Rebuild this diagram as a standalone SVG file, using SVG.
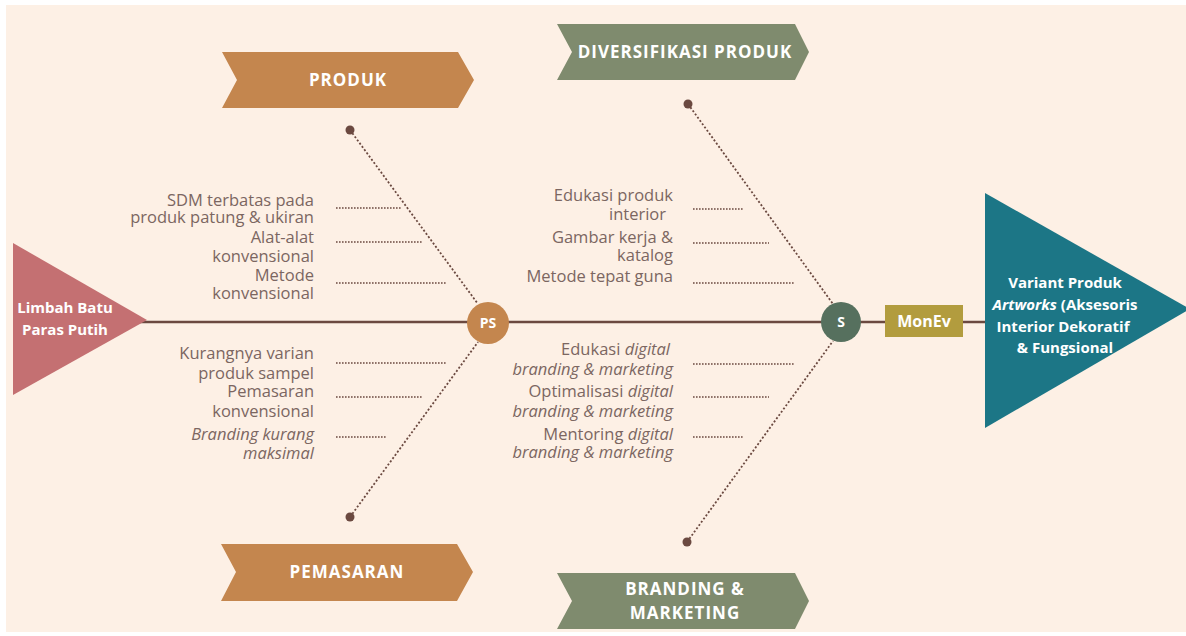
<svg xmlns="http://www.w3.org/2000/svg" width="1186" height="636" viewBox="0 0 1186 636">
  <style>
    .lbl { font-family: "Open Sans", "Liberation Sans", sans-serif; font-size: 16.5px; fill: #7b6661; text-anchor: end; }
    .it { font-style: italic; }
    .ban { font-family: "Open Sans", "Liberation Sans", sans-serif; font-size: 17px; font-weight: bold; letter-spacing: 1px; fill: #ffffff; text-anchor: middle; }
    .wt { font-family: "Open Sans", "Liberation Sans", sans-serif; font-weight: bold; fill: #ffffff; text-anchor: middle; }
    .tick { stroke: #6b4940; stroke-width: 1.4; stroke-dasharray: 1.6 1.4; fill: none; }
    .bone { stroke: #6b4940; stroke-width: 1.8; stroke-dasharray: 2 2; fill: none; }
    .dot { fill: #6b4940; }
  </style>

  <!-- page background -->
  <rect x="0" y="0" width="1186" height="636" fill="#ffffff"/>
  <rect x="6" y="5" width="1180" height="627" fill="#fdf0e5"/>

  <!-- connectors: spine, bones and tick lines -->
  <g id="connectors">
    <line x1="140" y1="322" x2="990" y2="322" stroke="#6b4940" stroke-width="2.5"/>
    <line class="bone" x1="350" y1="130" x2="478" y2="304"/>
    <line class="bone" x1="350" y1="517" x2="478" y2="342"/>
    <line class="bone" x1="688" y1="104" x2="833" y2="304"/>
    <line class="bone" x1="687" y1="542" x2="833" y2="341"/>
    <circle class="dot" cx="350" cy="130" r="4.5"/>
    <circle class="dot" cx="350" cy="517" r="4.5"/>
    <circle class="dot" cx="688" cy="104" r="4.5"/>
    <circle class="dot" cx="687" cy="542" r="4.5"/>

    <line class="tick" x1="336" y1="208" x2="402" y2="208"/>
    <line class="tick" x1="336" y1="242" x2="422" y2="242"/>
    <line class="tick" x1="336" y1="283" x2="447" y2="283"/>
    <line class="tick" x1="336" y1="363" x2="447" y2="363"/>
    <line class="tick" x1="336" y1="397" x2="422" y2="397"/>
    <line class="tick" x1="336" y1="437" x2="386" y2="437"/>

    <line class="tick" x1="693" y1="209" x2="743" y2="209"/>
    <line class="tick" x1="693" y1="243" x2="769" y2="243"/>
    <line class="tick" x1="693" y1="283" x2="795" y2="283"/>
    <line class="tick" x1="693" y1="364" x2="795" y2="364"/>
    <line class="tick" x1="693" y1="397" x2="769" y2="397"/>
    <line class="tick" x1="693" y1="437" x2="743" y2="437"/>
  </g>

  <!-- head: problem -->
  <g id="limbah">
    <polygon points="13,243 13,395 147,320" fill="#c47072"/>
    <text class="wt" font-size="15"><tspan x="65" y="313">Limbah Batu</tspan><tspan x="65" y="335">Paras Putih</tspan></text>
  </g>

  <!-- category banners -->
  <g id="produk">
    <polygon points="222,52 458,52 474,80 458,108 222,108 237,80" fill="#c4864e"/>
    <text class="ban" x="348" y="86">PRODUK</text>
  </g>
  <g id="pemasaran">
    <polygon points="221,544 457,544 473,572 457,601 221,601 236,572" fill="#c4864e"/>
    <text class="ban" x="347" y="578">PEMASARAN</text>
  </g>
  <g id="diversifikasi">
    <polygon points="557,24 795,24 809,52 795,80 557,80 572,52" fill="#7f8b6e"/>
    <text class="ban" x="685" y="58">DIVERSIFIKASI PRODUK</text>
  </g>
  <g id="branding">
    <polygon points="557,573 795,573 809,601 795,629 557,629 572,601" fill="#7f8b6e"/>
    <text class="ban"><tspan x="685" y="595">BRANDING &amp;</tspan><tspan x="685" y="619">MARKETING</tspan></text>
  </g>

  <!-- cause labels: produk -->
  <g id="label-produk">
    <text class="lbl"><tspan x="314" y="206">SDM terbatas pada</tspan><tspan x="314" y="223">produk patung &amp; ukiran</tspan></text>
    <text class="lbl"><tspan x="314" y="243">Alat-alat</tspan><tspan x="314" y="262">konvensional</tspan></text>
    <text class="lbl"><tspan x="314" y="281">Metode</tspan><tspan x="314" y="299">konvensional</tspan></text>
  </g>

  <!-- cause labels: pemasaran -->
  <g id="label-pemasaran">
    <text class="lbl"><tspan x="314" y="359">Kurangnya varian</tspan><tspan x="314" y="379">produk sampel</tspan></text>
    <text class="lbl"><tspan x="314" y="397">Pemasaran</tspan><tspan x="314" y="417">konvensional</tspan></text>
    <text class="lbl it"><tspan x="314" y="440">Branding kurang</tspan><tspan x="314" y="459">maksimal</tspan></text>
  </g>

  <!-- solution labels: diversifikasi -->
  <g id="label-diversifikasi">
    <text class="lbl"><tspan x="673" y="201">Edukasi produk</tspan><tspan x="666" y="220">interior</tspan></text>
    <text class="lbl"><tspan x="673" y="243">Gambar kerja &amp;</tspan><tspan x="673" y="261">katalog</tspan></text>
    <text class="lbl" x="673" y="282">Metode tepat guna</text>
  </g>

  <!-- solution labels: branding -->
  <g id="label-branding">
    <text class="lbl"><tspan x="670" y="355">Edukasi <tspan class="it">digital</tspan></tspan><tspan class="it" x="673" y="375">branding &amp; marketing</tspan></text>
    <text class="lbl"><tspan x="673" y="397">Optimalisasi  <tspan class="it">digital</tspan></tspan><tspan class="it" x="673" y="417">branding &amp; marketing</tspan></text>
    <text class="lbl"><tspan x="673" y="440">Mentoring <tspan class="it">digital</tspan></tspan><tspan class="it" x="673" y="458">branding &amp; marketing</tspan></text>
  </g>

  <!-- junction nodes -->
  <g id="ps">
    <circle cx="488" cy="323" r="21" fill="#c4864e"/>
    <text class="wt" font-size="14" x="488" y="328">PS</text>
  </g>
  <g id="s">
    <circle cx="841" cy="322" r="20" fill="#56705e"/>
    <text class="wt" font-size="14" x="841" y="327">S</text>
  </g>
  <g id="monev">
    <rect x="885" y="305" width="78" height="32" fill="#b29c3e"/>
    <text class="wt" font-size="16" x="924" y="327">MonEv</text>
  </g>

  <!-- head: outcome -->
  <g id="variant">
    <polygon points="985,193 985,428 1190,309" fill="#1c7686"/>
    <text class="wt" font-size="15"><tspan x="1065" y="288">Variant Produk</tspan><tspan x="1065" y="310"><tspan font-style="italic">Artworks</tspan> (Aksesoris</tspan><tspan x="1063" y="332">Interior Dekoratif</tspan><tspan x="1065" y="353">&amp; Fungsional</tspan></text>
  </g>
</svg>
